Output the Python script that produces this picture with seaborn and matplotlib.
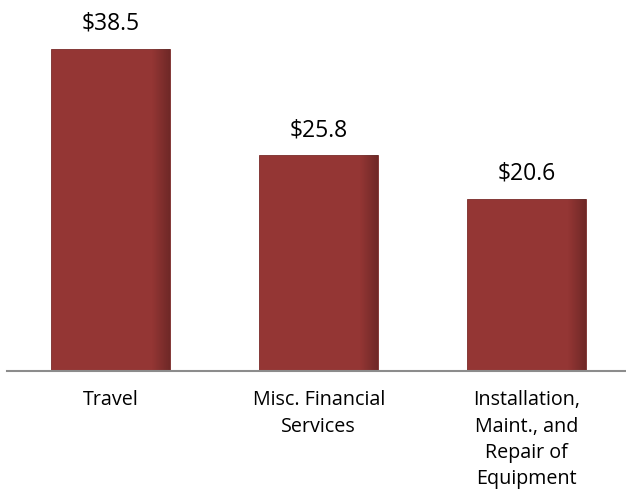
import seaborn as sns
import matplotlib.pyplot as plt
import numpy as np

# chart data
categories = ['Travel', 'Misc. Financial\nServices', 'Installation,\nMaint., and\nRepair of\nEquipment']
values = [38.5, 25.8, 20.6]
labels = ['$38.5', '$25.8', '$20.6']

sns.set_style('white')
plt.rcParams['font.family'] = ['Open Sans', 'DejaVu Sans']

fig = plt.figure(figsize=(6.26, 4.94), dpi=100)
ax = fig.add_axes([7 / 626, 123 / 494, 619 / 626, 371 / 494])

bar_color = '#943634'
sns.barplot(x=categories, y=values, color=bar_color, saturation=1, width=0.572, ax=ax)

# soft shading on each bar (darker toward the right edge)
shade = np.linspace(0, 1, 200)
shade = np.where(shade > 0.85, (shade - 0.85) / 0.15, 0) * 0.25
rgba = np.zeros((1, 200, 4))
rgba[..., 3] = shade
for p in ax.patches:
    x0, y0 = p.get_x(), p.get_y()
    w, h = p.get_width(), p.get_height()
    p.set_edgecolor('#7a2b29')
    p.set_linewidth(0.6)
    im = ax.imshow(rgba, extent=[x0, x0 + w, y0, y0 + h], aspect='auto', zorder=p.get_zorder() + 0.1)
    im.set_clip_path(p)

for i, (v, lab) in enumerate(zip(values, labels)):
    ax.text(i, v + 1.6, lab, ha='center', va='bottom', fontsize=16.5, color='#000000')

ax.set_xlim(-0.5, 2.478)
ax.set_ylim(0, 44.4)
ax.set_yticks([])
ax.tick_params(axis='x', length=0, labelsize=14.2, pad=14, colors='#000000')
for lbl in ax.get_xticklabels():
    lbl.set_linespacing(1.42)
    lbl.set_verticalalignment('top')
for s in ['top', 'right', 'left']:
    ax.spines[s].set_visible(False)
ax.spines['bottom'].set_color('#8c8c8c')
ax.spines['bottom'].set_linewidth(1.5)

fig.savefig('out.png', dpi=100)
